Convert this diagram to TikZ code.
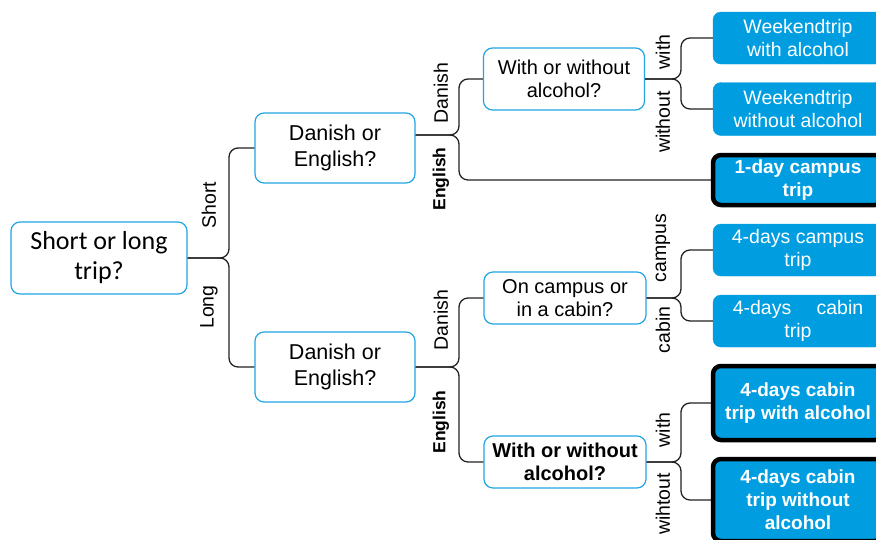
\documentclass[tikz,border=0pt]{standalone}
\usepackage{fontspec}
\setmainfont{Liberation Sans}
\newfontfamily\rootfont{Carlito}

\definecolor{tripblue}{RGB}{0,158,224}
\definecolor{edgeblue}{RGB}{35,165,228}
\definecolor{wire}{RGB}{35,35,35}

\tikzset{
	qbox/.style={draw=edgeblue, line width=1.2pt, rounded corners=9pt, fill=white, align=center, inner sep=0pt},
	leaf/.style={fill=tripblue, draw=tripblue, rounded corners=8pt, text=white, align=center, inner sep=0pt, minimum width=170pt, font=\fontsize{19.5}{23}\selectfont},
	pick/.style={leaf, draw=black, line width=4.5pt, font=\fontsize{19}{23}\selectfont\bfseries},
	branch/.style={draw=wire, line width=1.3pt, rounded corners=9pt},
	lab/.style={rotate=90, inner sep=0pt, font=\fontsize{19.5}{21}\selectfont},
	boldlab/.style={lab, font=\fontsize{17.5}{20}\selectfont\bfseries},
}

\begin{document}
\begin{tikzpicture}[x=1pt, y=-1pt]
	\useasboundingbox (0,0) rectangle (876,539);
	\fill[white] (0,0) rectangle (876,539);
	\clip (0,0) rectangle (876,539);

	% Questions:
	\node[qbox, minimum width=176pt, minimum height=72pt, font=\rootfont\fontsize{26}{30}\selectfont] (root) at (99,258) {Short or long\\trip?};
	\node[qbox, minimum width=160pt, minimum height=70pt, font=\fontsize{21.5}{26}\selectfont] (dkshort) at (335,148) {Danish or\\English?};
	\node[qbox, minimum width=160pt, minimum height=70pt, font=\fontsize{21.5}{26}\selectfont] (dklong) at (335,367) {Danish or\\English?};
	\node[qbox, minimum width=161pt, minimum height=62pt, font=\fontsize{20}{23}\selectfont] (alcshort) at (564,79) {With or without\\alcohol?};
	\node[qbox, minimum width=162pt, minimum height=52pt, font=\fontsize{20}{23}\selectfont] (place) at (565,298) {On campus or\\in a cabin?};
	\node[qbox, minimum width=162pt, minimum height=52pt, font=\fontsize{20}{23}\selectfont\bfseries] (alclong) at (565,462) {With or without\\alcohol?};

	% Trips:
	\node[leaf, minimum height=52pt] (weekw) at (798,38) {Weekendtrip\\with alcohol};
	\node[leaf, minimum height=53pt] (weekwo) at (798,109) {Weekendtrip\\without alcohol};
	\node[pick, minimum height=50pt] (oneday) at (798,180) {1-day campus\\trip};
	\node[leaf, minimum height=52pt] (campus4) at (798,250) {4-days campus\\trip};
	\node[leaf, minimum height=52pt] (cabin4) at (798,321) {4-days\hspace{1.3em}cabin\\trip};
	\node[pick, minimum height=74pt] (cabinw) at (798,403) {4-days cabin\\trip with alcohol};
	\node[pick, minimum height=82pt] (cabinwo) at (798,500) {4-days cabin\\trip without\\alcohol};

	% Branches:
	\coordinate (j1) at (229,0);
	\coordinate (j2) at (459,0);
	\coordinate (j3) at (681,0);
	\coordinate (dkexit) at ([yshift=13pt]dkshort.east);
	\draw[branch] (root.east) -- (root.east -| j1) |- (dkshort.west);
	\draw[branch] (root.east) -- (root.east -| j1) |- (dklong.west);
	\draw[branch] (dkexit) -- (dkexit -| j2) |- (alcshort.west);
	\draw[branch] (dkexit) -- (dkexit -| j2) |- (oneday.west);
	\draw[branch] (dklong.east) -- (dklong.east -| j2) |- (place.west);
	\draw[branch] (dklong.east) -- (dklong.east -| j2) |- (alclong.west);
	\draw[branch] (alcshort.east) -- (alcshort.east -| j3) |- (weekw.west);
	\draw[branch] (alcshort.east) -- (alcshort.east -| j3) |- (weekwo.west);
	\draw[branch] (place.east) -- (place.east -| j3) |- (campus4.west);
	\draw[branch] (place.east) -- (place.east -| j3) |- (cabin4.west);
	\draw[branch] (alclong.east) -- (alclong.east -| j3) |- (cabinw.west);
	\draw[branch] (alclong.east) -- (alclong.east -| j3) |- (cabinwo.west);

	% Answers:
	\node[lab] (lshort) at (209,205) {Short};
	\node[lab] (llong) at (209,307) {Long};
	\node[lab] (ldk1) at (441,93) {Danish};
	\node[boldlab] (len1) at (441,179) {English};
	\node[lab] (lwith1) at (663,52) {with};
	\node[lab] (lwo1) at (663,122) {without};
	\node[lab] (ldk2) at (441,320) {Danish};
	\node[boldlab] (len2) at (441,422) {English};
	\node[lab] (lcampus) at (663,248) {campus};
	\node[lab] (lcabin) at (663,330) {cabin};
	\node[lab] (lwith2) at (663,430) {with};
	\node[lab] (lwo2) at (663,504) {wihtout};
\end{tikzpicture}
\end{document}
